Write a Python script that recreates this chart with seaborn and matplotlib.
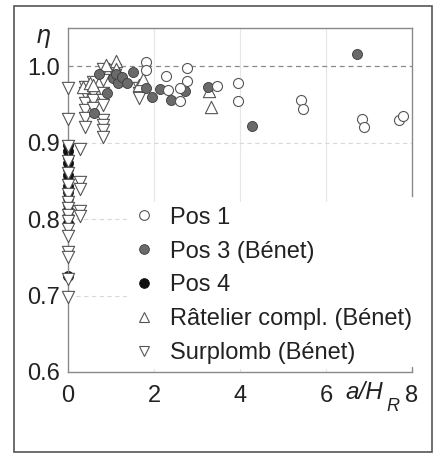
import matplotlib
matplotlib.use("Agg")
import matplotlib.pyplot as plt
from matplotlib.lines import Line2D
from matplotlib.patches import Rectangle
import numpy as np
import pandas as pd
import seaborn as sns

# Efficiency eta versus relative distance a/H_R
pos1_a = [1.81, 1.81, 2.29, 2.76, 2.76, 2.60, 2.33, 2.60, 3.47, 3.96, 3.96,
          5.42, 5.46, 6.84, 6.88, 7.69, 7.80]
pos1_eta = [1.005, 0.995, 0.987, 0.998, 0.981, 0.972, 0.969, 0.955, 0.974,
            0.978, 0.955, 0.956, 0.944, 0.931, 0.920, 0.929, 0.935]

pos3_a = [0.61, 0.72, 0.90, 1.05, 1.12, 1.17, 1.25, 1.38, 1.52, 1.82, 1.95,
          2.14, 2.39, 2.72, 3.25, 4.27, 6.73]
pos3_eta = [0.939, 0.990, 0.965, 0.984, 0.990, 0.978, 0.986, 0.978, 0.992,
            0.972, 0.960, 0.970, 0.956, 0.968, 0.973, 0.922, 1.016]

pos4_a = [0.0] * 15
pos4_eta = [0.897, 0.889, 0.881, 0.873, 0.866, 0.858, 0.851, 0.843, 0.836,
            0.828, 0.820, 0.812, 0.804, 0.795, 0.725]

ratelier_a = [0.36, 0.51, 0.59, 0.88, 1.12, 1.12, 1.64, 1.75, 3.28, 3.32]
ratelier_eta = [0.973, 0.978, 0.975, 1.001, 1.007, 0.997, 0.975, 0.983,
                0.968, 0.947]

surplomb_a = ([0.0] * 17 + [0.28] * 5 + [0.40] * 6 + [0.57] * 4
              + [0.82] * 9 + [1.10] * 2 + [1.64] * 3)
surplomb_eta = ([0.971, 0.931, 0.896, 0.876, 0.860, 0.845, 0.833, 0.823,
                 0.815, 0.805, 0.797, 0.787, 0.778, 0.757, 0.750, 0.722, 0.698]
                + [0.892, 0.848, 0.839, 0.811, 0.804]
                + [0.973, 0.965, 0.952, 0.943, 0.932, 0.921]
                + [0.980, 0.965, 0.956, 0.945]
                + [0.996, 0.982, 0.965, 0.956, 0.949, 0.930, 0.923, 0.917, 0.908]
                + [0.995, 0.988]
                + [0.971, 0.965, 0.958])

x_ticks = [0, 2, 4, 6, 8]
y_ticks = [0.6, 0.7, 0.8, 0.9, 1.0]
y_tick_labels = ["0.6", "0.7", "0.8", "0.9", "1.0"]

labels = ["Pos 1", "Pos 3 (Bénet)", "Pos 4", "Râtelier compl. (Bénet)",
          "Surplomb (Bénet)"]

sns.set_theme(style="white")
plt.rcParams["font.family"] = ["Liberation Sans", "DejaVu Sans"]

fig = plt.figure(figsize=(4.40, 4.61), dpi=100)
ax = fig.add_axes([68 / 440, 1 - 372 / 461, (412 - 68) / 440, (372 - 28) / 461])
ax.set_axisbelow(False)

ax.set_xlim(0, 8)
ax.set_ylim(0.6, 1.05)

# grid lines
for xv in [2, 4, 6]:
    ax.axvline(xv, color="#e6e6e6", lw=0.8, zorder=0)
for yv in [0.7, 0.8, 0.9]:
    ax.axhline(yv, color="#d8d8d8", lw=0.8, ls=(0, (4, 3)), zorder=0)
ax.axhline(1.0, color="#8a8a8a", lw=0.9, ls=(0, (4, 3)), zorder=0.5)

ms_circ = 52
ms_tri = 78
sns.scatterplot(x=pos4_a, y=pos4_eta, ax=ax, marker="o", s=ms_circ,
                color="#111111", edgecolor="#111111", linewidth=0.6, zorder=2,
                clip_on=False)
sns.scatterplot(x=surplomb_a, y=surplomb_eta, ax=ax, marker="v", s=ms_tri,
                color="white", edgecolor="#555555", linewidth=0.8, zorder=3,
                clip_on=False)
sns.scatterplot(x=ratelier_a, y=ratelier_eta, ax=ax, marker="^", s=ms_tri,
                color="white", edgecolor="#555555", linewidth=0.8, zorder=3,
                clip_on=False)
sns.scatterplot(x=pos3_a, y=pos3_eta, ax=ax, marker="o", s=ms_circ,
                color="#6a6a6a", edgecolor="#3a3a3a", linewidth=0.6, zorder=4,
                clip_on=False)
sns.scatterplot(x=pos1_a, y=pos1_eta, ax=ax, marker="o", s=ms_circ,
                color="white", edgecolor="#555555", linewidth=0.8, zorder=4,
                clip_on=False)

ax.set_xticks(x_ticks)
ax.set_xticklabels([str(t) for t in x_ticks], fontsize=17)
ax.set_yticks(y_ticks)
ax.set_yticklabels(y_tick_labels, fontsize=17)
ax.tick_params(axis="both", length=0, pad=9, colors="#222222")
ax.tick_params(axis="y", pad=6)

for side in ["left", "bottom", "top", "right"]:
    ax.spines[side].set_color("#8a8a8a")
    ax.spines[side].set_linewidth(1.0)
ax.spines["left"].set_zorder(2.5)
# right frame line stops where the key box begins, with a short stub at the base
ax.spines["right"].set_bounds(0.83, 1.05)
ax.plot([8, 8], [0.6, 0.606], color="#8a8a8a", lw=1.0, clip_on=False, zorder=2.5)

ax.set_xlabel("")
ax.set_ylabel("")

# axis titles
fig.text(43 / 440, 1 - 38 / 461, r"$\eta$", fontsize=17, ha="center",
         va="center", color="#222222")
fig.text(345 / 440, 1 - 392 / 461, "a/H", fontsize=17.5, fontstyle="italic",
         ha="left", va="center", color="#222222")
fig.text(386 / 440, 1 - 406 / 461, "R", fontsize=13, fontstyle="italic",
         ha="left", va="center", color="#222222")

handles = [
    Line2D([], [], ls="", marker="o", ms=7, mfc="white", mec="#555555", mew=0.8),
    Line2D([], [], ls="", marker="o", ms=7, mfc="#6a6a6a", mec="#3a3a3a", mew=0.6),
    Line2D([], [], ls="", marker="o", ms=7, mfc="#111111", mec="#111111", mew=0.6),
    Line2D([], [], ls="", marker="^", ms=7.5, mfc="white", mec="#555555", mew=0.8),
    Line2D([], [], ls="", marker="v", ms=7.5, mfc="white", mec="#555555", mew=0.8),
]
leg = ax.legend(handles, labels, loc="upper left",
                bbox_to_anchor=(127 / 440, 1 - 202 / 461),
                bbox_transform=fig.transFigure, fontsize=17, frameon=True,
                handlelength=1.0, handletextpad=0.6, labelspacing=0.50,
                borderpad=0.2, borderaxespad=0)
leg.get_frame().set_facecolor("white")
leg.get_frame().set_edgecolor("none")
leg.get_frame().set_alpha(1.0)
leg.set_zorder(1.0)
for t in leg.get_texts():
    t.set_color("#222222")

# outer frame
fig.patches.append(Rectangle((14 / 440, 1 - 452 / 461), (432 - 14) / 440,
                             (452 - 6) / 461, transform=fig.transFigure,
                             fill=False, ec="#555555", lw=1.2))

fig.savefig("out.png", dpi=100, facecolor="white")
